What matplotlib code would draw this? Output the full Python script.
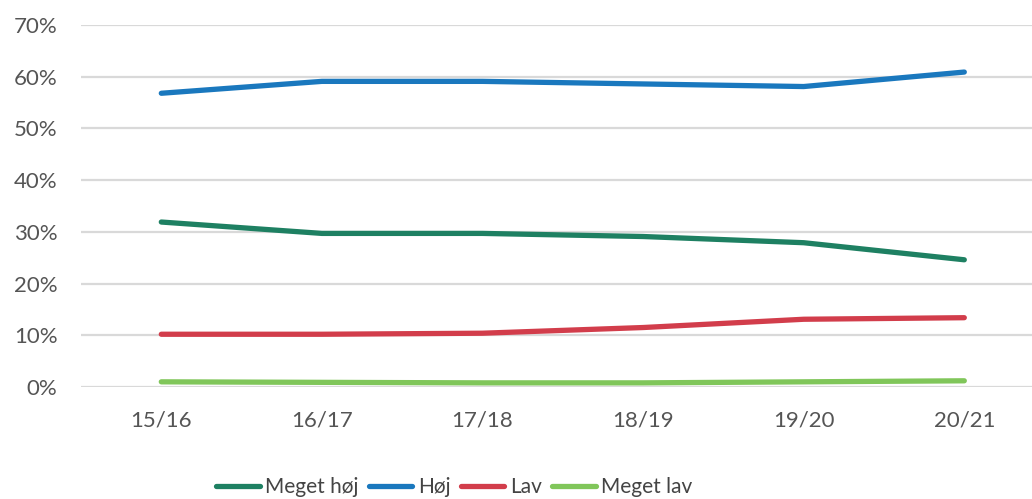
import matplotlib
matplotlib.use("Agg")
import matplotlib.pyplot as plt
from matplotlib.ticker import FuncFormatter

plt.rcParams['font.family'] = ['Lato', 'DejaVu Sans']

categories = ["15/16", "16/17", "17/18", "18/19", "19/20", "20/21"]
meget_hoej = [31.9, 29.7, 29.7, 29.1, 27.9, 24.6]
hoej = [56.8, 59.1, 59.1, 58.6, 58.1, 60.9]
lav = [10.2, 10.2, 10.4, 11.5, 13.1, 13.4]
meget_lav = [1.0, 0.9, 0.8, 0.8, 1.0, 1.2]

series = [
    ("Meget høj", meget_hoej, "#1e8062"),
    ("Høj", hoej, "#1a78be"),
    ("Lav", lav, "#d23d4b"),
    ("Meget lav", meget_lav, "#80c65a"),
]

W, H = 1032, 499
fig = plt.figure(figsize=(W / 100, H / 100), dpi=100)
left_px, right_px = 81, 1032
top_px, bot_px = 25, 387
ax = fig.add_axes([left_px / W, 1 - bot_px / H, (right_px - left_px) / W, (bot_px - top_px) / H])

x = list(range(len(categories)))
for name, vals, col in series:
    ax.plot(x, vals, color=col, lw=3.8, label=name, solid_capstyle='round', zorder=3)

step = 160.6
ax.set_xlim(-0.5, -0.5 + (right_px - left_px) / step)
ax.set_ylim(0, 70)
ax.set_yticks(range(0, 71, 10))
ax.yaxis.set_major_formatter(FuncFormatter(lambda v, p: f"{int(v)}%"))
ax.set_xticks(x)
ax.set_xticklabels(categories)
ax.grid(axis='y', color='#d9d9d9', lw=1.6, zorder=0)
for s in ax.spines.values():
    s.set_visible(False)
ax.tick_params(length=0, labelsize=16, labelcolor='#555555')
ax.tick_params(axis='x', pad=17)
ax.tick_params(axis='y', pad=17)

fig.legend(loc='center', bbox_to_anchor=(454 / W, 1 - 487 / H), ncol=4, frameon=False,
           fontsize=15, handlelength=2.1, handletextpad=0.25, columnspacing=0.5,
           labelcolor='#444444')

fig.savefig("out.png", dpi=100, facecolor='white')
